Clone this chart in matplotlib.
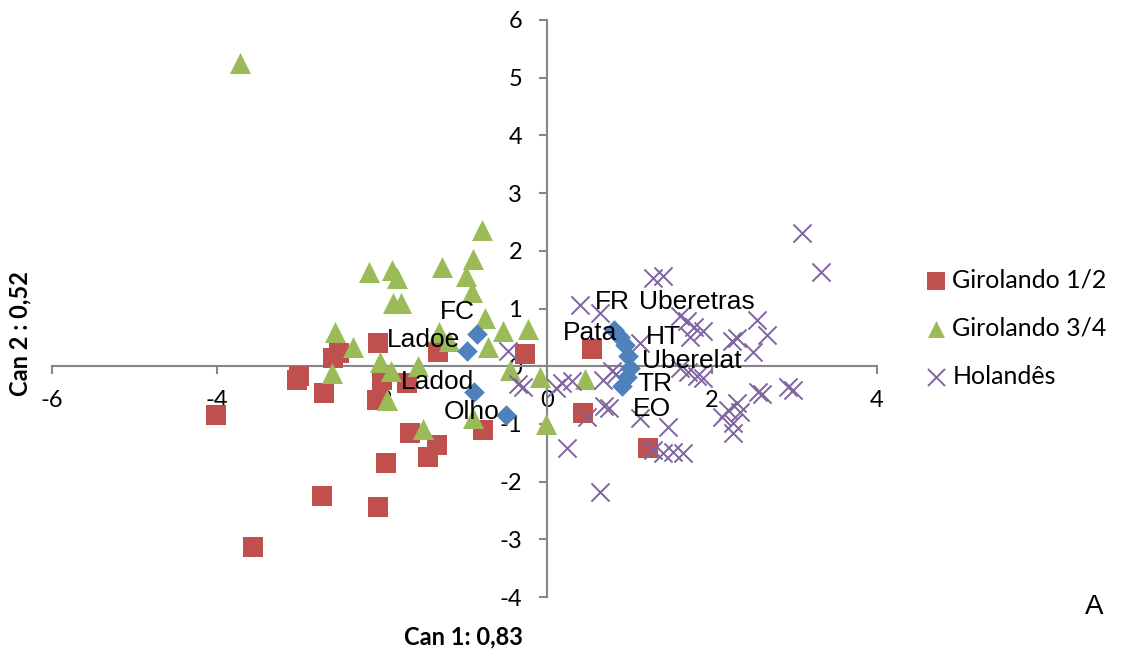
import matplotlib
matplotlib.use("Agg")
import matplotlib.pyplot as plt

plt.rcParams["axes.unicode_minus"] = False

# ---- data ----
g12_x = [-4.01, -3.03, -3.01, -2.70, -2.59, -2.52, -2.05, -2.00, -2.06, -1.70, -1.32, -1.66,
         -1.33, -1.44, -1.95, -2.73, -2.05, -3.56, -0.78, -0.27, 0.55, 0.44, 1.22]
g12_y = [-0.85, -0.24, -0.17, -0.47, 0.14, 0.23, 0.40, -0.24, -0.59, -0.29, 0.24, -1.16,
         -1.37, -1.58, -1.68, -2.25, -2.44, -3.14, -1.11, 0.21, 0.29, -0.81, -1.42]

g34_x = [-3.72, -0.79, -2.16, -1.88, -1.82, -1.27, -0.90, -0.98, -0.91, -1.87, -1.77, -2.57,
         -2.35, -1.31, -1.19, -0.75, -0.53, -0.23, -0.72, -2.02, -1.89, -2.61, -1.56, -1.94,
         -0.45, -0.08, 0.46, -1.50, -0.90, -0.01]
g34_y = [5.25, 2.36, 1.63, 1.66, 1.53, 1.72, 1.85, 1.56, 1.28, 1.09, 1.09, 0.59,
         0.33, 0.59, 0.43, 0.83, 0.61, 0.64, 0.33, 0.07, -0.09, -0.12, 0.00, -0.59,
         -0.07, -0.19, -0.23, -1.09, -0.90, -1.01]

hol_x = [3.09, 3.32, 1.28, 1.41, 0.40, 0.64, 1.61, 1.70, 1.78, 1.89, 2.55, 2.67, 2.24, 2.30,
         1.13, 2.50, 1.61, 1.71, 1.82, 1.89, 0.79, 0.84, 0.68, 0.30, 0.11, -0.47, -0.35, -0.29,
         0.69, 0.75, 0.48, 1.13, 1.47, 2.12, 2.19, 2.30, 2.34, 2.25, 2.25, 2.56, 2.61, 2.92,
         2.98, 1.28, 1.41, 1.53, 1.65, 0.24, 0.64, 1.73, 0.18]
hol_y = [2.31, 1.63, 1.53, 1.56, 1.06, 0.92, 0.87, 0.78, 0.68, 0.61, 0.80, 0.54, 0.43, 0.49,
         0.40, 0.24, -0.03, -0.10, -0.17, -0.21, -0.09, -0.14, -0.24, -0.26, -0.38, 0.26, -0.31, -0.36,
         -0.69, -0.73, -0.88, -0.90, -1.06, -0.88, -0.76, -0.64, -0.80, -0.99, -1.16, -0.45, -0.49, -0.36,
         -0.42, -1.46, -1.51, -1.49, -1.51, -1.42, -2.18, 0.50, -0.29]

var_names = ["FC", "Ladoe", "Ladod", "Olho", "FR", "Uberetras", "Pata", "HT", "Uberelat", "TR", "EO"]
var_x = [-0.85, -0.97, -0.88, -0.50, 0.81, 0.88, 0.95, 0.98, 1.01, 0.97, 0.91]
var_y = [0.55, 0.26, -0.45, -0.85, 0.62, 0.50, 0.36, 0.17, -0.03, -0.19, -0.35]
# label positions (text centres, data units)
lab_x = [-1.09, -1.50, -1.33, -0.91, 0.79, 1.82, 0.52, 1.41, 1.76, 1.31, 1.27]
lab_y = [0.94, 0.45, -0.28, -0.80, 1.11, 1.11, 0.57, 0.50, 0.09, -0.31, -0.74]

series_names = ["Girolando 1/2", "Girolando 3/4", "Holandês"]
x_ticks = [-6, -4, -2, 0, 2, 4]
y_ticks = [-4, -3, -2, -1, 0, 1, 2, 3, 4, 5, 6]

# ---- figure ----
fig = plt.figure(figsize=(11.25, 6.51), dpi=100)
ax = fig.add_axes([52 / 1125, 1 - 597 / 651, (877 - 52) / 1125, (597 - 20) / 651])
ax.set_xlim(-6, 4)
ax.set_ylim(-4, 6)

axis_col = "#868686"
for s in ["top", "right"]:
    ax.spines[s].set_visible(False)
ax.spines["left"].set_position(("data", 0))
ax.spines["bottom"].set_position(("data", 0))
for s in ["left", "bottom"]:
    ax.spines[s].set_color(axis_col)
    ax.spines[s].set_linewidth(1.5)

ax.set_xticks(x_ticks)
ax.set_yticks(y_ticks)
ax.tick_params(axis="both", direction="out", color=axis_col, width=1.5, length=6,
               labelsize=17)
ax.tick_params(axis="x", pad=11)
ax.tick_params(axis="y", pad=12)
for lab in ax.get_xticklabels() + ax.get_yticklabels():
    lab.set_fontfamily("Lato")

ax.scatter(g12_x, g12_y, marker="s", s=190, color="#C0504D", label=series_names[0],
           zorder=3, linewidths=0)
ax.scatter(g34_x, g34_y, marker="^", s=230, color="#9BBB59", label=series_names[1],
           zorder=3, linewidths=0)
ax.scatter(hol_x, hol_y, marker="x", s=170, color="#8064A2", label=series_names[2],
           zorder=3, linewidths=1.4)
ax.scatter(var_x, var_y, marker="D", s=110, color="#4F81BD", zorder=4, linewidths=0)

for name, tx, ty in zip(var_names, lab_x, lab_y):
    ax.text(tx, ty, name, fontsize=19, family="Liberation Sans", ha="center", va="center",
            zorder=5)

leg = ax.legend(loc="center left", bbox_to_anchor=(915 / 1125, 1 - 328 / 651),
                bbox_transform=fig.transFigure, frameon=False,
                handlelength=0.7, handletextpad=0.3, labelspacing=1.0, borderpad=0,
                prop={"family": "Lato", "size": 18})
for h in leg.legend_handles:
    h.set_sizes([150])

fig.text(463 / 1125, 1 - 637 / 651, "Can 1: 0,83", fontsize=17, fontweight="bold",
         family="Lato", ha="center", va="center")
fig.text(20 / 1125, 1 - 333 / 651, "Can 2 : 0,52", fontsize=17, fontweight="bold",
         family="Lato", ha="center", va="center", rotation=90)
fig.text(1094 / 1125, 1 - 607 / 651, "A", fontsize=20, family="Liberation Sans",
         ha="center", va="center")

fig.savefig("out.png", dpi=100)
